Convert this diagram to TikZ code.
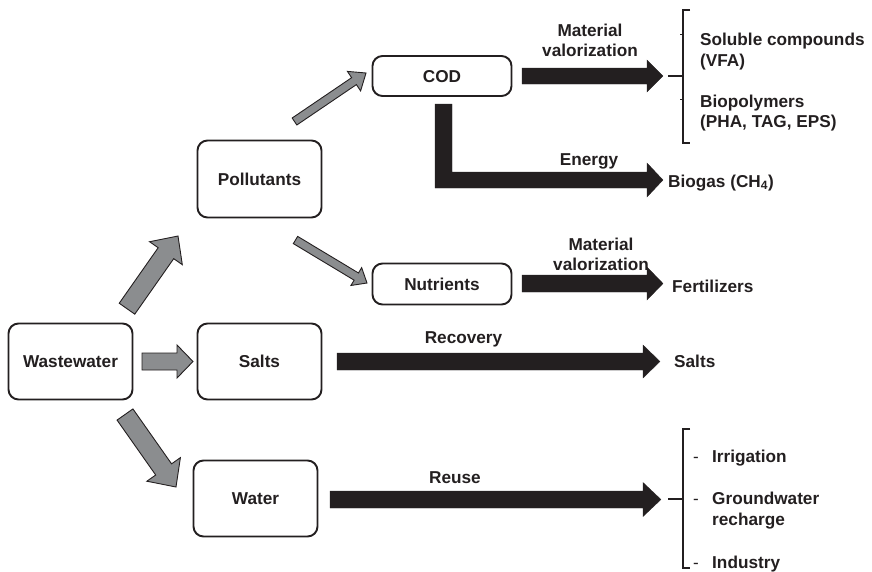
\documentclass[tikz,border=0pt]{standalone}
\usepackage{fontspec}
\setmainfont{Liberation Sans}
\usetikzlibrary{calc}
\definecolor{ink}{HTML}{231F20}
\definecolor{arrowgray}{HTML}{8B8D8F}
% #1 tail, #2 tip, #3 shaft half width, #4 head half width, #5 head length, #6 style
\newcommand\blockarrow[6]{%
  \coordinate (ba-h) at ($(#2)!#5!(#1)$);
  \filldraw[#6] ($(#1)!#3!90:(#2)$) -- ($(ba-h)!#3!90:(#2)$) -- ($(ba-h)!#4!90:(#2)$) -- (#2)
    -- ($(ba-h)!#4!-90:(#2)$) -- ($(ba-h)!#3!-90:(#2)$) -- ($(#1)!#3!-90:(#2)$) -- cycle;}
\begin{document}
\begin{tikzpicture}[x=1pt,y=-1pt,
  every node/.style={font=\fontsize{17.2}{20}\selectfont\bfseries, inner sep=0pt, text=ink},
  box/.style={draw=ink, line width=1.9pt, rounded corners=10pt, fill=white,
    text height=12.2pt, text depth=0pt},
  garrow/.style={fill=arrowgray, draw=ink, line width=0.9pt, line join=miter},
  karrow/.style={fill=ink, draw=ink, line width=0.3pt},
  bracket/.style={draw=ink, line width=1.5pt}]
\useasboundingbox (0,0) rectangle (872,571);

% boxes
\node[box, minimum width=124pt, minimum height=76pt] (ww) at (70.5,361.5) {Wastewater};
\node[box, minimum width=124pt, minimum height=77pt] (pol) at (259.5,179) {Pollutants};
\node[box, minimum width=124pt, minimum height=76pt] (salts) at (259.5,361.5) {Salts};
\node[box, minimum width=124pt, minimum height=76pt] (water) at (255.5,498.5) {Water};
\node[box, minimum width=139pt, minimum height=40pt] (cod) at (442,76) {COD};
\node[box, minimum width=139pt, minimum height=41pt] (nut) at (442,284) {Nutrients};

% gray arrows
\coordinate (g1a) at (127,308.7); \coordinate (g1b) at (178,236);
\blockarrow{g1a}{g1b}{9.5pt}{20pt}{21pt}{garrow}
\coordinate (g2a) at (142,361.5); \coordinate (g2b) at (193,361.5);
\blockarrow{g2a}{g2b}{8.5pt}{16.5pt}{16pt}{garrow}
\coordinate (g3a) at (125,414.5); \coordinate (g3b) at (176,487);
\blockarrow{g3a}{g3b}{9.7pt}{20.5pt}{21.5pt}{garrow}
\coordinate (g4a) at (294.5,121.5); \coordinate (g4b) at (366,73);
\blockarrow{g4a}{g4b}{4.2pt}{11.8pt}{14.5pt}{garrow}
\coordinate (g5a) at (295.5,240); \coordinate (g5b) at (367,283);
\blockarrow{g5a}{g5b}{4.2pt}{10.4pt}{12.5pt}{garrow}

% black arrows
\coordinate (k1a) at (522,76); \coordinate (k1b) at (663,76);
\blockarrow{k1a}{k1b}{8pt}{16pt}{16pt}{karrow}
\coordinate (k3a) at (522,283.5); \coordinate (k3b) at (663,283.5);
\blockarrow{k3a}{k3b}{8.5pt}{16.5pt}{16pt}{karrow}
\coordinate (k4a) at (337,361.5); \coordinate (k4b) at (660,361.5);
\blockarrow{k4a}{k4b}{8.5pt}{16.5pt}{17pt}{karrow}
\coordinate (k5a) at (330,499.5); \coordinate (k5b) at (661,499.5);
\blockarrow{k5a}{k5b}{8.5pt}{17pt}{18pt}{karrow}
\coordinate (k2a) at (443.5,104); \coordinate (k2b) at (663,180);
\filldraw[karrow] (435,104) -- (452,104) -- (452,172) -- (647,172) -- (647,163) -- (k2b)
  -- (647,197) -- (647,188) -- (435,188) -- cycle;

% brackets
\coordinate (br1) at (668,76);
\draw[bracket] (690,10) -- (683,10) -- (683,143) -- (690,143);
\draw[bracket] (br1) -- (683,76);
\draw[draw=ink, line width=0.8pt] (680,34) -- (683,34) (680,99) -- (683,99);
\coordinate (br2) at (668,499);
\draw[bracket] (690,429) -- (683,429) -- (683,568) -- (690,568);
\draw[bracket] (br2) -- (683,499);

% labels
\node[anchor=base] (mv1a) at (590,36) {Material};
\node[anchor=base] (mv1b) at (590,56) {valorization};
\node[anchor=base] (en) at (589,165) {Energy};
\node[anchor=base west] (bio) at (668,187) {Biogas (CH\textsubscript{4})};
\node[anchor=base west] (sol1) at (700,45) {Soluble compounds};
\node[anchor=base west] (sol2) at (700,66) {(VFA)};
\node[anchor=base west] (bp1) at (700,107) {Biopolymers};
\node[anchor=base west] (bp2) at (700,127) {(PHA, TAG, EPS)};
\node[anchor=base] (mv2a) at (601,250) {Material};
\node[anchor=base] (mv2b) at (601,270) {valorization};
\node[anchor=base west] (fert) at (672,292) {Fertilizers};
\node[anchor=base] (rec) at (463.5,343) {Recovery};
\node[anchor=base west] (salto) at (674,367) {Salts};
\node[anchor=base] (reuse) at (455,483) {Reuse};
\node[anchor=base west, font=\fontsize{17}{20}\selectfont] (d1) at (693,462) {-};
\node[anchor=base west, font=\fontsize{17}{20}\selectfont] (d2) at (693,504) {-};
\node[anchor=base west, font=\fontsize{17}{20}\selectfont] (d3) at (693,568) {-};
\node[anchor=base west] (irr) at (712,462) {Irrigation};
\node[anchor=base west] (gw1) at (712,504) {Groundwater};
\node[anchor=base west] (gw2) at (712,525) {recharge};
\node[anchor=base west] (ind) at (712,568) {Industry};
\end{tikzpicture}
\end{document}
